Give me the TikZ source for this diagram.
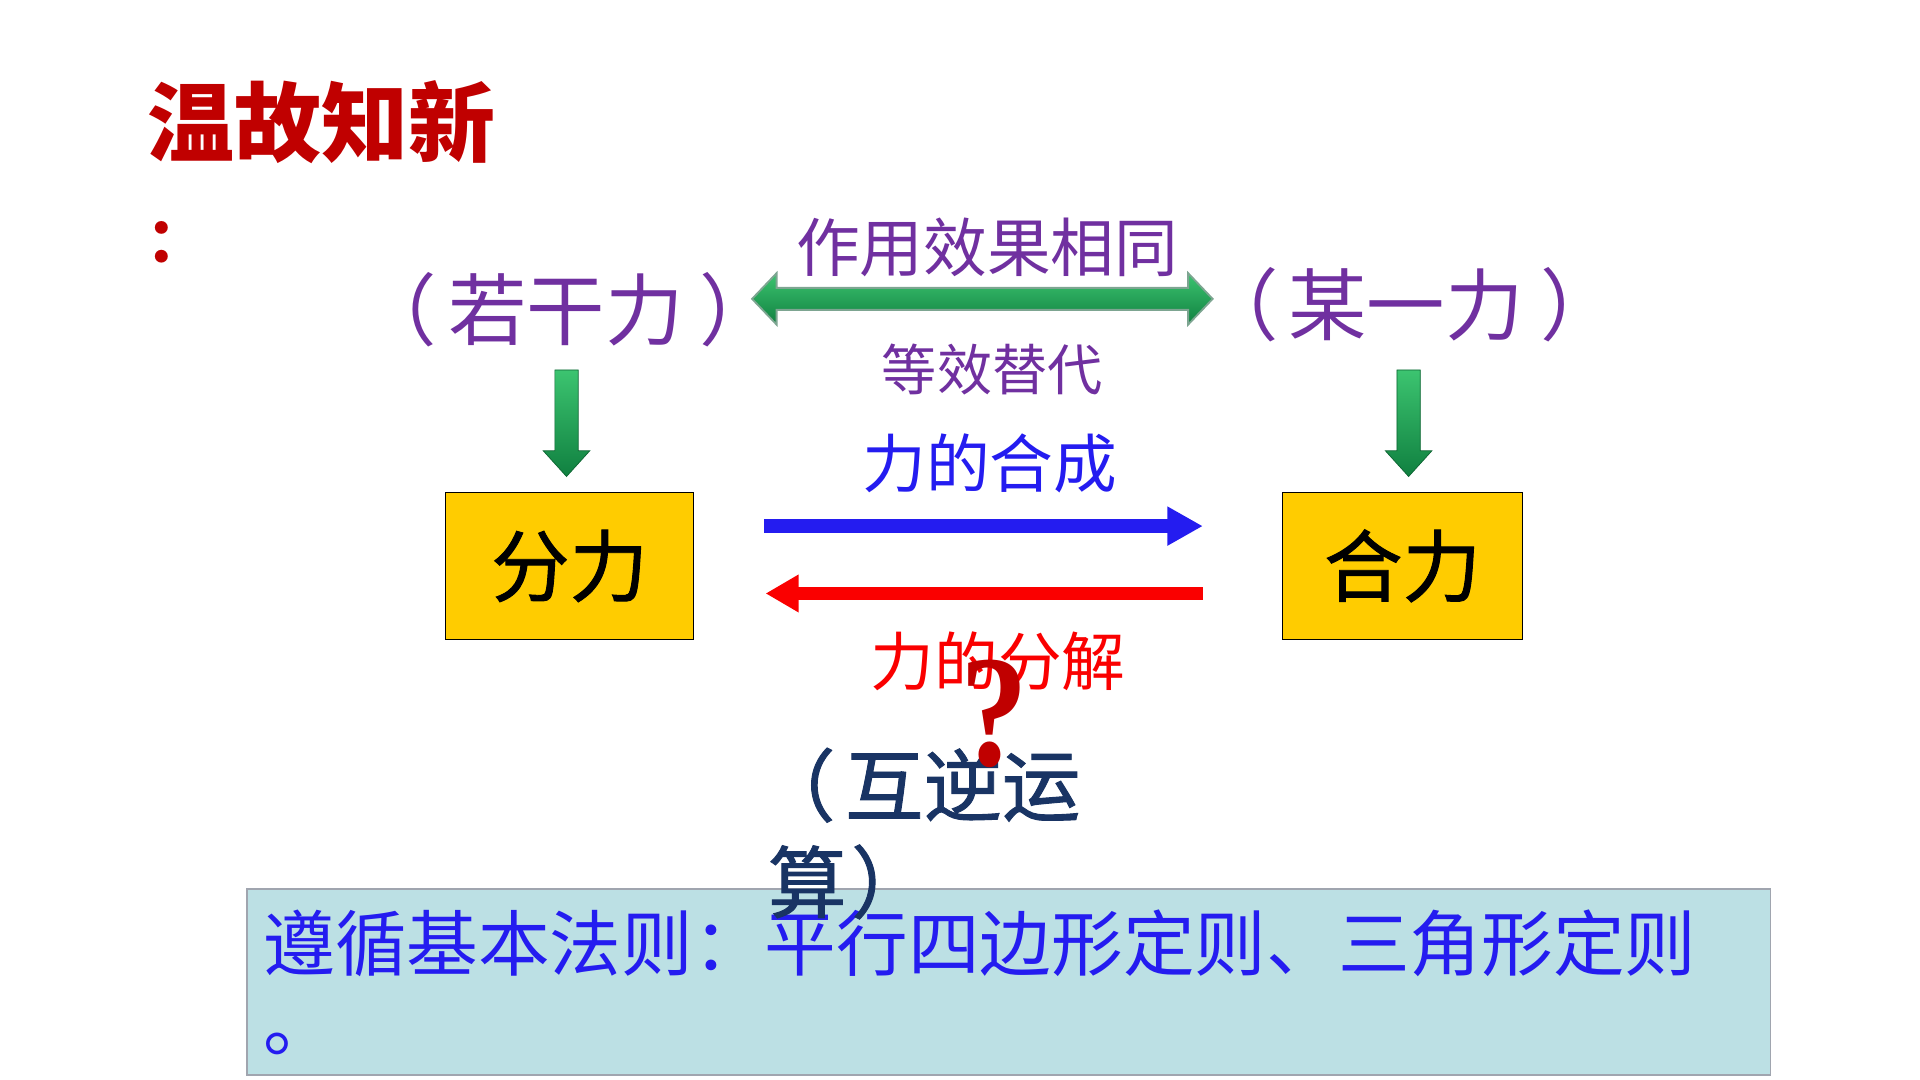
\documentclass[tikz,border=0pt]{standalone}
\usepackage{fontspec}
\newfontfamily\cjk{Noto Sans CJK SC}
\newfontfamily\cjkmed[FakeBold=1.2]{Noto Sans CJK SC}
\newfontfamily\qfont{Liberation Serif}
\usetikzlibrary{arrows.meta,calc}
\definecolor{ttlred}{RGB}{192,0,0}
\definecolor{purp}{RGB}{112,48,160}
\definecolor{blueT}{RGB}{36,28,240}
\definecolor{redT}{RGB}{250,0,0}
\definecolor{navy}{RGB}{25,52,100}
\definecolor{yel}{RGB}{255,204,0}
\definecolor{boxblue}{RGB}{188,224,228}
\definecolor{boxedge}{RGB}{160,165,175}
\definecolor{glight}{RGB}{60,196,112}
\definecolor{gdark}{RGB}{16,128,64}
\definecolor{gedge}{RGB}{125,165,145}
\newcommand\fsz[1]{\fontsize{#1}{#1}\selectfont}
\begin{document}
\begin{tikzpicture}[x=1pt,y=-1pt,
  txt/.style={inner sep=0pt,outer sep=0pt},
  ybox/.style={draw=black,line width=1pt,fill=yel,inner sep=0pt,minimum width=202pt,minimum height=120pt,font=\cjkmed\fsz{64}},
  gdbl/.style={draw=gedge,line width=1.5pt,top color=glight,bottom color=gdark},
  gdown/.style={draw=gdark!80!black,line width=0.6pt,top color=glight,bottom color=gdark},
  bluearrow/.style={draw=blueT,line width=11pt,-{Triangle[length=29pt,width=30pt]}},
  redarrow/.style={draw=redT,line width=10.5pt,-{Triangle[length=27pt,width=29pt]}}]
\useasboundingbox (0,0) rectangle (1567.5,881.7);
\fill[white] (0,0) rectangle (1567.5,881.7);

% title
\node[txt,text=ttlred,font=\cjk\bfseries\fsz{71}] (title) at (262.5,100) {温故知新};
\node[txt,text=ttlred,font=\cjk\bfseries\fsz{50},anchor=west] (colon) at (120,197.5) {：};

% upper labels
\node[txt,text=purp,font=\cjk\fsz{64},anchor=west] (ruogan) at (293,253) {（\kern9pt 若干力\kern13pt ）};
\node[txt,text=purp,font=\cjk\fsz{64},anchor=west] (mouyi) at (980,249) {（\kern8pt 某一力\kern14pt ）};
\node[txt,text=purp,font=\cjk\fsz{52}] (zuoyong) at (806,202) {作用效果相同};
\node[txt,text=purp,font=\cjk\fsz{45}] (dengxiao) at (810,302) {等效替代};

% green double arrow
\coordinate (gl) at (614,244);
\path[gdbl] (gl) -- ++(20,-21) -- ++(0,12) -- ++(336,0) -- ++(0,-12) -- ++(20,21)
  -- ++(-20,21) -- ++(0,-12) -- ++(-336,0) -- ++(0,12) -- cycle;

% green down arrows
\coordinate (ld) at (462.5,302);
\coordinate (rd) at (1150,302);
\path[gdown] ($(ld)+(-9.5,0)$) -- ++(19,0) -- ++(0,66) -- ++(9.5,0) -- ++(-19,21)
  -- ++(-19,-21) -- ++(9.5,0) -- cycle;
\path[gdown] ($(rd)+(-9.5,0)$) -- ++(19,0) -- ++(0,66) -- ++(9.5,0) -- ++(-19,21)
  -- ++(-19,-21) -- ++(9.5,0) -- cycle;

% boxes
\node[ybox] (fenli) at (465,462) {分力};
\node[ybox,minimum width=196pt] (heli) at (1145,462) {合力};

% synthesis / decomposition
\node[txt,text=blueT,font=\cjk\fsz{52}] (hecheng) at (808,378) {力的合成};
\coordinate (bs) at (624,429.5);
\coordinate (be) at (982,429.5);
\draw[bluearrow] (bs) -- (be);
\coordinate (rs) at (982,484.5);
\coordinate (re) at (625,484.5);
\draw[redarrow] (rs) -- (re);
\node[txt,text=redT,font=\cjk\fsz{52}] (fenjie) at (815,540) {力的分解};

% bottom box
\node[draw=boxedge,line width=1.2pt,fill=boxblue,minimum width=1244pt,minimum height=152pt,anchor=north west,inner sep=0pt] (rule) at (201,725) {};
\node[txt,text=blueT,font=\cjk\fsz{58.5},anchor=west] (rtext) at (215,770) {遵循基本法则：平行四边形定则、三角形定则};
\node[txt,text=blueT,font=\cjk\fsz{58.5}] (rdot) at (244,852) {。};

% inverse operation
\node[txt,text=navy,font=\cjkmed\fsz{64},anchor=west] (huni1) at (618,641) {（\kern8pt 互逆运};
\node[txt,text=navy,font=\cjkmed\fsz{64},anchor=west] (huni2) at (627,720) {算\kern4pt ）};

% question mark
\node[txt,text=ttlred,font=\qfont\bfseries\fsz{130},xscale=0.85] (qm) at (812,583) {?};
\end{tikzpicture}
\end{document}
